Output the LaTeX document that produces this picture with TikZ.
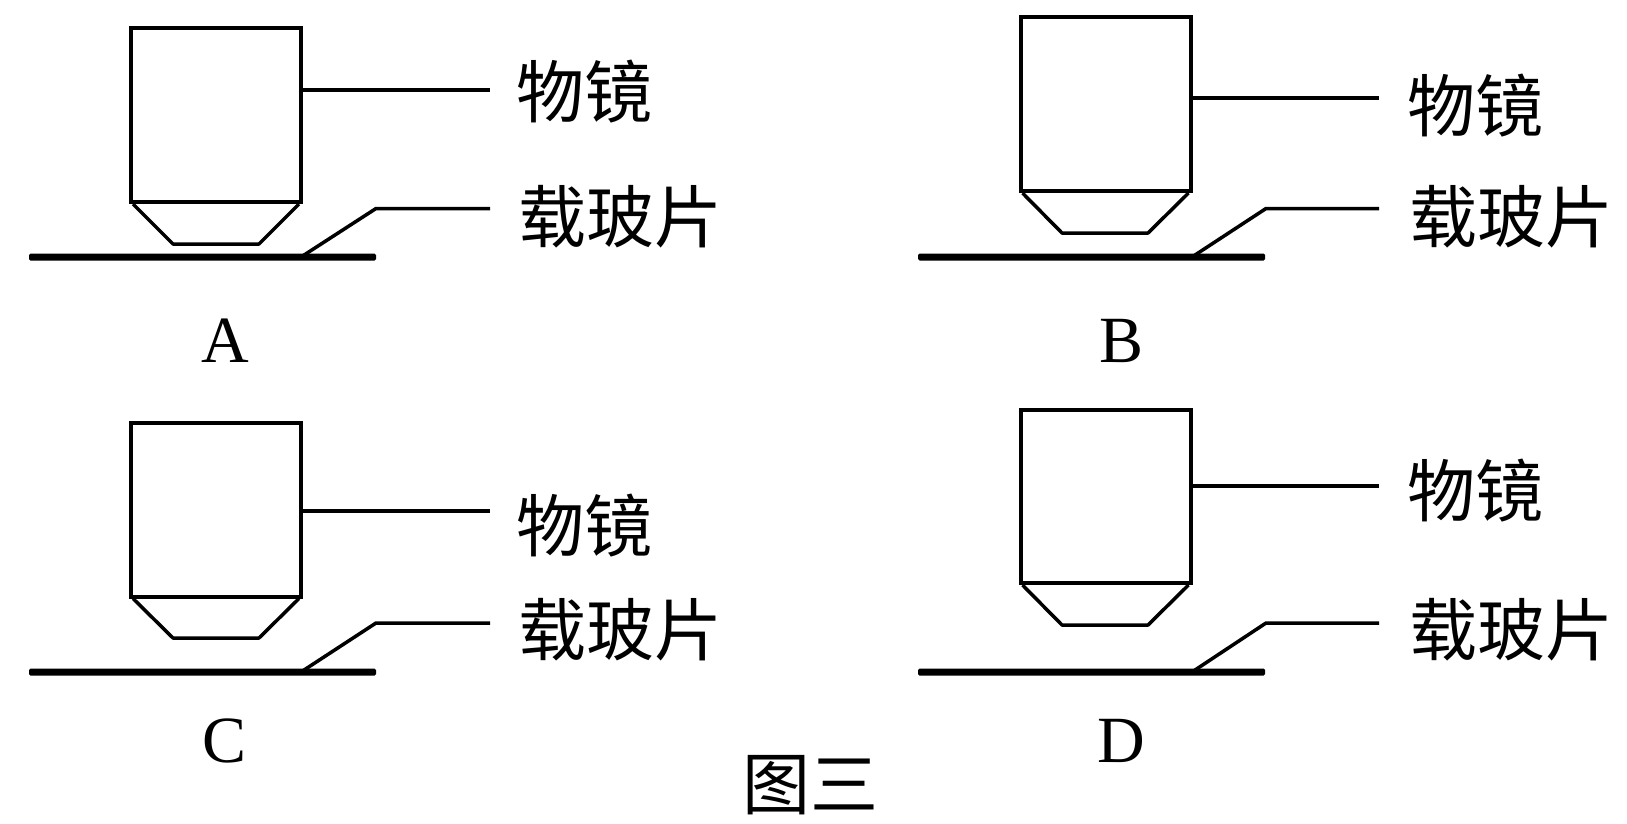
\documentclass[tikz,border=0pt]{standalone}
\usepackage{fontspec}
\setmainfont{Liberation Serif}
\newfontfamily\cjk{Noto Sans CJK SC}
\usetikzlibrary{positioning}

\begin{document}
\begin{tikzpicture}
    [x=1pt,y=-1pt,
    objective/.style={rectangle,draw=black,line width=4pt,
      inner sep=0pt,minimum width=170pt},
    tip/.style={draw=black,line width=3.5pt,line join=round},
    slide/.style={rectangle,fill=black,rounded corners=1.5pt,
      inner sep=0pt,minimum width=347pt,minimum height=7pt},
    leader/.style={draw=black,line width=3.5pt},
    cn/.style={inner sep=0pt,font=\cjk\fontsize{68}{68}\selectfont},
    letter/.style={inner sep=0pt,font=\fontsize{66}{66}\selectfont}]

    \useasboundingbox (0,0) rectangle (1627,823);

    % A
    \node (objective A) at (216,115) [objective,minimum height=174pt] {};
    \node (slide A)     at (202.5,257) [slide] {};
    \coordinate (tip A1) at (173,244);
    \coordinate (tip A2) at (259,244);
    \coordinate (end A)  at (490,90);
    \coordinate (foot A) at (301,257);
    \coordinate (knee A) at (376,208.5);
    \coordinate (free A) at (490,208.5);
    \node (lens A)  at (584,92)  [cn] {物镜};
    \node (glass A) at (620,217) [cn] {载玻片};
    \node (name A)  at (225,341) [letter] {A};
    \draw [tip] ([xshift=4pt]objective A.south west) -- (tip A1) -- (tip A2) -- ([xshift=-4pt]objective A.south east);
    \draw [leader] (objective A.east |- end A) -- (end A);
    \draw [leader] (foot A) -- (knee A) -- (free A);

    % B
    \node (objective B) at (1105.5,104) [objective,minimum height=174pt] {};
    \node (slide B)     at (1091.5,257) [slide] {};
    \coordinate (tip B1) at (1062,233);
    \coordinate (tip B2) at (1148,233);
    \coordinate (end B)  at (1379,98);
    \coordinate (foot B) at (1192,257);
    \coordinate (knee B) at (1266,208.5);
    \coordinate (free B) at (1379,208.5);
    \node (lens B)  at (1475,106) [cn] {物镜};
    \node (glass B) at (1511,217) [cn] {载玻片};
    \node (name B)  at (1121,341) [letter] {B};
    \draw [tip] ([xshift=4pt]objective B.south west) -- (tip B1) -- (tip B2) -- ([xshift=-4pt]objective B.south east);
    \draw [leader] (objective B.east |- end B) -- (end B);
    \draw [leader] (foot B) -- (knee B) -- (free B);

    % C
    \node (objective C) at (216,509.5) [objective,minimum height=174pt] {};
    \node (slide C)     at (202.5,672) [slide] {};
    \coordinate (tip C1) at (173,638);
    \coordinate (tip C2) at (259,638);
    \coordinate (end C)  at (490,511);
    \coordinate (foot C) at (301,672);
    \coordinate (knee C) at (376,623);
    \coordinate (free C) at (490,623);
    \node (lens C)  at (584,526) [cn] {物镜};
    \node (glass C) at (620,630) [cn] {载玻片};
    \node (name C)  at (225,741) [letter] {C};
    \draw [tip] ([xshift=4pt]objective C.south west) -- (tip C1) -- (tip C2) -- ([xshift=-4pt]objective C.south east);
    \draw [leader] (objective C.east |- end C) -- (end C);
    \draw [leader] (foot C) -- (knee C) -- (free C);

    % D
    \node (objective D) at (1105.5,496.5) [objective,minimum height=173pt] {};
    \node (slide D)     at (1091.5,672) [slide] {};
    \coordinate (tip D1) at (1062,625);
    \coordinate (tip D2) at (1148,625);
    \coordinate (end D)  at (1379,486);
    \coordinate (foot D) at (1192,672);
    \coordinate (knee D) at (1266,623);
    \coordinate (free D) at (1379,623);
    \node (lens D)  at (1475,491) [cn] {物镜};
    \node (glass D) at (1511,630) [cn] {载玻片};
    \node (name D)  at (1121,741) [letter] {D};
    \draw [tip] ([xshift=4pt]objective D.south west) -- (tip D1) -- (tip D2) -- ([xshift=-4pt]objective D.south east);
    \draw [leader] (objective D.east |- end D) -- (end D);
    \draw [leader] (foot D) -- (knee D) -- (free D);

    \node (caption) at (810,785) [cn] {图三};

  \end{tikzpicture}
\end{document}
